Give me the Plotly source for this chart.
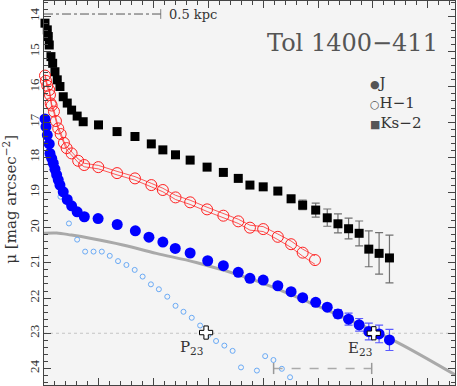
import plotly.graph_objects as go

# Ks-2 profile (radius in arcsec, surface brightness in mag/arcsec^2)
ks_r = [0.018, 0.06, 0.078, 0.096, 0.127, 0.158, 0.2, 0.242, 0.291, 0.351, 0.424, 0.504,
        0.605, 0.715, 0.995, 1.333, 1.66, 1.958, 2.169, 2.4, 2.667, 2.976, 3.273, 3.545,
        3.758, 4.0, 4.267, 4.509, 4.72, 4.958, 5.169, 5.364, 5.558, 5.751, 5.927, 6.115, 6.304]
ks_mu = [14.19, 14.38, 14.57, 14.81, 15.14, 15.33, 15.57, 15.80, 15.99, 16.28, 16.46, 16.66,
         16.83, 16.99, 17.08, 17.27, 17.41, 17.62, 17.79, 17.93, 18.08, 18.28, 18.43, 18.60,
         18.79, 18.84, 18.96, 19.18, 19.36, 19.50, 19.72, 19.89, 20.03, 20.16, 20.61, 20.73, 20.86]
ks_err_faint = [0] * 27 + [0.10, 0.13, 0.20, 0.24, 0.26, 0.29, 0.36, 0.50, 0.59, 0.71]
ks_err_bright = [0] * 27 + [0.10, 0.14, 0.20, 0.25, 0.28, 0.30, 0.35, 0.52, 0.59, 0.65]

# H-1 profile with its uncertainty band
h_r = [0.018, 0.036, 0.06, 0.096, 0.109, 0.122, 0.14, 0.182, 0.218, 0.26, 0.304, 0.364,
       0.413, 0.504, 0.624, 0.733, 0.991, 1.333, 1.66, 1.958, 2.169, 2.4, 2.667, 2.976,
       3.273, 3.545, 3.758, 4.0, 4.267, 4.509, 4.72, 4.945]
h_mu = [15.68, 15.83, 15.97, 16.09, 16.23, 16.47, 16.53, 16.70, 16.97, 17.18, 17.34, 17.59,
        17.74, 17.89, 18.10, 18.22, 18.28, 18.45, 18.60, 18.79, 18.93, 19.14, 19.28, 19.48,
        19.66, 19.82, 20.00, 20.04, 20.26, 20.47, 20.71, 20.92]
h_err = [0.04, 0.04, 0.04, 0.04, 0.04, 0.04, 0.04, 0.04, 0.04, 0.04, 0.04, 0.04,
         0.05, 0.05, 0.05, 0.05, 0.05, 0.05, 0.05, 0.05, 0.05, 0.06, 0.06, 0.06,
         0.06, 0.06, 0.07, 0.07, 0.08, 0.09, 0.10, 0.12]

# J profile
j_r = [0.018, 0.036, 0.06, 0.096, 0.109, 0.14, 0.169, 0.2, 0.231, 0.26, 0.291, 0.351, 0.424,
       0.504, 0.605, 0.736, 0.987, 1.336, 1.667, 1.915, 2.169, 2.395, 2.667, 2.987, 3.273,
       3.545, 3.758, 4.0, 4.267, 4.509, 4.72, 4.958, 5.169, 5.364, 5.558, 5.751, 5.927, 6.115, 6.304]
j_mu = [16.91, 17.13, 17.37, 17.62, 17.89, 18.03, 18.17, 18.34, 18.50, 18.64, 18.79, 18.98, 19.20,
        19.38, 19.55, 19.69, 19.74, 19.91, 20.09, 20.27, 20.41, 20.59, 20.72, 20.94, 21.08,
        21.27, 21.44, 21.49, 21.65, 21.82, 21.99, 22.12, 22.26, 22.45, 22.60, 22.76, 22.95, 23.02, 23.19]
j_err = [0] * 31 + [0.05, 0.08, 0.12, 0.17, 0.18, 0.24, 0.25, 0.30]

# residual (J minus fitted host) profile
res_r = [0.3, 0.455, 0.605, 0.751, 0.904, 1.055, 1.2, 1.351, 1.504, 1.655, 1.8, 1.951, 2.096,
         2.249, 2.4, 2.545, 2.696, 2.849, 3.0, 3.14, 3.291, 3.442, 3.595, 3.885, 4.036, 4.187,
         4.34, 4.49]
res_mu = [19.12, 19.88, 20.34, 20.68, 20.68, 20.68, 20.80, 20.95, 21.06, 21.20, 21.39, 21.61, 21.75,
          21.96, 22.22, 22.39, 22.56, 22.78, 23.05, 23.22, 23.35, 23.50, 23.97, 24.06, 23.65, 23.76,
          24.01, 24.25]

# host galaxy fit
fit_r = [0, 0.23, 0.5, 0.84, 1.44, 2.05, 2.78, 3.745, 4.29, 4.836, 5.018, 5.745, 6.473, 7.5]
fit_mu = [20.16, 20.15, 20.21, 20.30, 20.49, 20.73, 20.99, 21.44, 21.76, 22.12, 22.24, 22.74, 23.28, 24.18]

# P23 and E23 markers
mark_r = [2.958, 6.018]
mark_mu = [22.98, 23.0]
mark_names = ["P<sub>23</sub>", "E<sub>23</sub>"]

SERIF = "DejaVu Serif, serif"
TICKFONT = "Liberation Serif, serif"
h_upper = [m - e for m, e in zip(h_mu, h_err)]
h_lower = [m + e for m, e in zip(h_mu, h_err)]

fig = go.Figure()

# fitted host profile
fig.add_trace(go.Scatter(x=fit_r, y=fit_mu, mode="lines", line=dict(color="#a9a9a9", width=3, shape="spline")))

# residual profile
fig.add_trace(go.Scatter(
    x=res_r, y=res_mu, mode="markers",
    marker=dict(symbol="circle-open", size=5, color="#6aaaf5", line=dict(width=1))
))

# scale bar (0.5 kpc) and the gray dashed bar at the bottom
fig.add_trace(go.Scatter(
    x=[0, 2.13], y=[13.93, 13.93], mode="lines+markers",
    line=dict(color="#555555", width=1, dash="dashdot"),
    marker=dict(symbol="line-ns", size=[0, 7], line=dict(color="#555555", width=1))
))
fig.add_trace(go.Scatter(
    x=[4.19, 5.98], y=[24.0, 24.0], mode="lines+markers",
    line=dict(color="#aaaaaa", width=1.5, dash="dash"),
    marker=dict(symbol="line-ns", size=8, line=dict(color="#999999", width=1.5))
))

# Ks-2
fig.add_trace(go.Scatter(
    x=ks_r, y=ks_mu, mode="markers", cliponaxis=False,
    marker=dict(symbol="square", size=9, color="black"),
    error_y=dict(type="data", array=ks_err_faint, arrayminus=ks_err_bright,
                 color="#707070", thickness=1.2, width=4)
))

# H-1 band and points
fig.add_trace(go.Scatter(x=h_r, y=h_upper, mode="lines", line=dict(color="#ff3030", width=0.8)))
fig.add_trace(go.Scatter(x=h_r, y=h_lower, mode="lines", line=dict(color="#ff3030", width=0.8)))
fig.add_trace(go.Scatter(
    x=h_r, y=h_mu, mode="markers", cliponaxis=False,
    marker=dict(symbol="circle-open", size=11, color="#ff2020", line=dict(width=1))
))

# J
fig.add_trace(go.Scatter(
    x=j_r, y=j_mu, mode="markers", cliponaxis=False,
    marker=dict(symbol="circle", size=11, color="#0000ff"),
    error_y=dict(type="data", array=j_err, color="#5a5aff", thickness=1.2, width=4)
))

fig.add_trace(go.Scatter(
    x=mark_r, y=mark_mu, mode="markers",
    marker=dict(symbol="cross", size=11, color="white", line=dict(color="black", width=1))
))

for r, mu, name in zip(mark_r, mark_mu, mark_names):
    fig.add_annotation(x=r - 0.26, y=mu + 0.42, text=name, showarrow=False,
                       font=dict(family=SERIF, size=15, color="#333333"))

fig.add_hline(y=23, line=dict(color="#c4c4c4", width=1, dash="dot"), layer="below")

fig.add_annotation(x=2.25, y=13.93, text="0.5 kpc", showarrow=False, xanchor="left",
                   font=dict(family=SERIF, size=13, color="#333333"))
fig.add_annotation(x=0.963, y=0.932, xref="paper", yref="paper", text="Tol 1400\u2212411",
                   showarrow=False, xanchor="right",
                   font=dict(family=SERIF, size=24, color="#555555"))

legend_items = ["<span style='font-size:11px;color:#555'>\u25cf</span>J",
                "<span style='font-size:11px;color:#555'>\u25cb</span>H\u22121",
                "<span style='font-size:11px;color:#555'>\u25a0</span>Ks\u22122"]
for i, txt in enumerate(legend_items):
    fig.add_annotation(x=0.788, y=0.816 - 0.053 * i, xref="paper", yref="paper", text=txt,
                       showarrow=False, xanchor="left",
                       font=dict(family=SERIF, size=15, color="#333333"))

fig.add_annotation(x=-0.083, y=0.485, xref="paper", yref="paper", textangle=-90,
                   xanchor="center", yanchor="middle",
                   text="\u03bc [mag arcsec<sup>\u22122</sup>]", showarrow=False,
                   font=dict(family=SERIF, size=15, color="#333333"))

axis_common = dict(
    showline=True, linecolor="#444444", linewidth=1, mirror="allticks",
    ticks="inside", ticklen=7, tickcolor="#444444", showgrid=False, zeroline=False,
)
fig.update_xaxes(range=[0, 7.5], tick0=0, dtick=1, showticklabels=False,
                 minor=dict(ticks="inside", ticklen=4, dtick=0.2, tickcolor="#444444", showgrid=False),
                 **axis_common)
fig.update_yaxes(range=[24.47, 13.56], tickvals=list(range(14, 25)), tickangle=-90,
                 tickfont=dict(family=TICKFONT, size=13, color="#333333"), ticklabelstandoff=-1,
                 minor=dict(ticks="inside", ticklen=4, dtick=0.2, tickcolor="#444444", showgrid=False),
                 automargin=False,
                 **axis_common)

fig.update_layout(
    width=457, height=386,
    margin=dict(l=44, r=2, t=1, b=1),
    plot_bgcolor="#f4f4f4", paper_bgcolor="white",
    showlegend=False,
)

fig.write_html("out.html", config={"displayModeBar": False},
               post_script="document.body.style.margin='0';")
